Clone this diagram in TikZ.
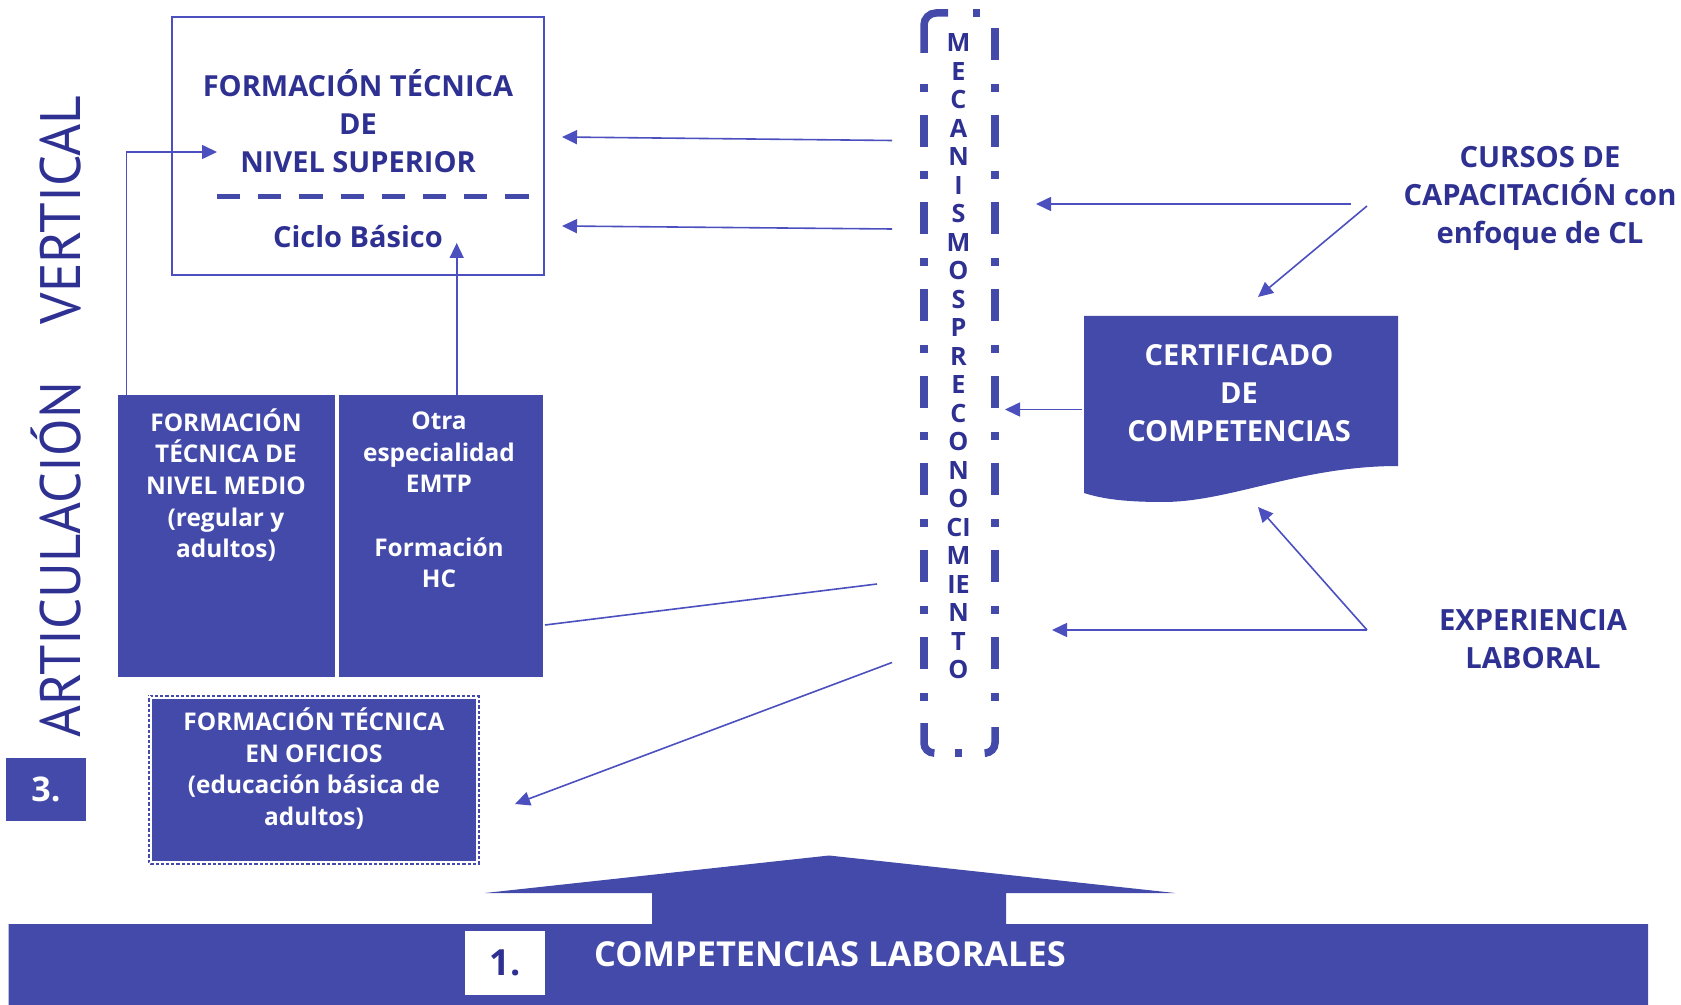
\documentclass[tikz,border=0pt]{standalone}
\usepackage{fontspec}
\setmainfont{Open Sans}
\newfontfamily\ptfont{PT Sans}
\usetikzlibrary{arrows.meta}
\definecolor{boxblue}{RGB}{67,74,169}
\definecolor{txtblue}{RGB}{46,49,146}
\definecolor{lineblue}{RGB}{75,80,190}
\newcommand{\myfs}[2]{\fontsize{#1}{#2}\selectfont}
\begin{document}
\begin{tikzpicture}[x=0.5pt,y=-0.5pt,
  arr/.style={draw=lineblue,line width=0.8pt,-{Triangle[length=7.5pt,width=7pt]}},
  conn/.style={draw=lineblue,line width=0.8pt},
  fillbox/.style={fill=boxblue,draw=none,inner sep=0pt,outer sep=0pt},
  wtxt/.style={text=white,font=\bfseries\myfs{12.2}{15.8},align=center},
  btxt/.style={text=txtblue,font=\bfseries\myfs{14.5}{19},align=center},
  mechline/.style={boxblue,line width=3.75pt},
]
\useasboundingbox (0,0) rectangle (1681,1005);
% top box
\node[draw=lineblue,line width=1pt,minimum width=186pt,minimum height=129pt,inner sep=0pt] (sup) at (357.5,146.5) {};
\node[btxt] (suptxt) at (358,121) {FORMACIÓN TÉCNICA\\DE\\NIVEL SUPERIOR};
\node[btxt] (ciclo) at (358,237) {Ciclo Básico};
\draw[boxblue,line width=2.5pt,dash pattern=on 11.6pt off 9pt] (217,196.5) -- (532,196.5);
% blue boxes
\node[fillbox,minimum width=108.5pt,minimum height=140.75pt] (medio) at (226.5,536.25) {};
\node[wtxt] (mediotxt) at (226,485) {FORMACIÓN\\TÉCNICA DE\\NIVEL MEDIO\\(regular y\\adultos)};
\node[fillbox,minimum width=102pt,minimum height=140.75pt] (otra) at (441.3,536.25) {};
\node[wtxt] (otratxt) at (439,500) {Otra\\especialidad\\EMTP\\[15.8pt]Formación\\HC};
\node[fillbox,minimum width=166pt,minimum height=85pt] (ofi) at (314,780) {};
\draw[white,line width=0.8pt] (151,698) rectangle (477,862);
\draw[white,line width=1.3pt,dash pattern=on 1pt off 1.6pt] (149.3,696.3) rectangle (478.7,863.7);
\node[wtxt] (ofitxt) at (314,768.5) {FORMACIÓN TÉCNICA\\EN OFICIOS\\(educación básica de\\adultos)};
% mechanism column
\node[inner sep=0pt,minimum width=35.5pt,minimum height=370.5pt] (mech) at (959.5,383.5) {};
\draw[mechline,dash pattern=on 16pt off 12pt on 4pt off 11.5pt] (995,28) -- (995,701);
\draw[mechline,dash pattern=on 4pt off 11.5pt on 16pt off 12pt] (924,84) -- (924,701);
\draw[mechline,rounded corners=6pt] (924,53) -- (924,13) -- (948,13);
\draw[mechline] (973,13) -- (980,13);
\draw[mechline,rounded corners=5pt] (924,723) -- (924,753) -- (933,753);
\draw[mechline,rounded corners=5pt] (995,727) -- (995,753) -- (987,753);
\draw[mechline] (954.5,753) -- (961.5,753);
\node[text=txtblue,font=\bfseries\myfs{12.6}{14.25},align=center] (mechtxt) at (958.5,356.5) {M\\E\\C\\A\\N\\I\\S\\M\\O\\S\\P\\R\\E\\C\\O\\N\\O\\CI\\M\\IE\\N\\T\\O};
% right side
\node[btxt,font=\bfseries\myfs{14.6}{19}] (cursos) at (1540,198) {CURSOS DE\\CAPACITACIÓN con\\enfoque de CL};
\node[btxt,font=\bfseries\myfs{14.6}{19}] (exper) at (1533,639) {EXPERIENCIA\\LABORAL};
\fill[boxblue] (1084,316) -- (1398,316) -- (1398,466) .. controls (1300,466) and (1230,502) .. (1163,502) .. controls (1120,502) and (1100,498) .. (1084,493) -- cycle;
\node[wtxt,font=\bfseries\myfs{14.5}{19}] (cert) at (1239,393) {CERTIFICADO\\DE\\COMPETENCIAS};
% vertical title
\node[rotate=90,anchor=base,text=txtblue,font=\ptfont\myfs{28.5}{30}] (artic) at (80,559.5) {\scalebox{0.96}[1]{ARTICULACIÓN}};
\node[rotate=90,anchor=base,text=txtblue,font=\ptfont\myfs{28.5}{30}] (vert) at (80,210) {\scalebox{0.97}[1]{VERTICAL}};
\node[fillbox,minimum width=39.7pt,minimum height=31.5pt,text=white,font=\bfseries\myfs{17}{20}] (three) at (46,789.5) {3.};
% bottom band
\fill[boxblue] (8.6,924) -- (652,924) -- (652,893) -- (485,893) -- (829,855.5) -- (1175,893) -- (1006,893) -- (1006,924) -- (1648,924) -- (1648,1005) -- (8.6,1005) -- cycle;
\node[fill=white,minimum width=40pt,minimum height=32.2pt,inner sep=0pt,text=txtblue,font=\bfseries\myfs{18}{20}] (one) at (505,962.8) {1.};
\node[text=white,font=\bfseries\myfs{17.2}{20}] (complab) at (830,954) {COMPETENCIAS LABORALES};
% connectors
\coordinate (m1) at (892,140.5); \coordinate (t1) at (562,137);
\coordinate (m2) at (892,229); \coordinate (t2) at (562,226);
\coordinate (c1) at (1351,204); \coordinate (mc1) at (1036,204);
\coordinate (c2) at (1367,206); \coordinate (ct) at (1258,297);
\coordinate (cl) at (1082,409.5); \coordinate (mc2) at (1005,409.5);
\coordinate (e1) at (1367,630); \coordinate (me) at (1052,630);
\coordinate (cb) at (1258,507);
\coordinate (ol) at (545,625); \coordinate (mo) at (877,584);
\coordinate (m3) at (892,662.5); \coordinate (ofin) at (515,804);
\coordinate (supin) at (217,152);
\coordinate (cbin) at (456.7,243);
\draw[arr] (m1) -- (t1);
\draw[arr] (m2) -- (t2);
\draw[arr] (c1) -- (mc1);
\draw[arr] (c2) -- (ct);
\draw[arr] (cl) -- (mc2);
\draw[arr] (e1) -- (me);
\draw[arr] (e1) -- (cb);
\draw[conn] (ol) -- (mo);
\draw[arr] (m3) -- (ofin);
\draw[arr] (medio.north west) ++(8.5,0) |- (supin);
\draw[arr] (cbin |- otra.north) -- (cbin);
\end{tikzpicture}
\end{document}
